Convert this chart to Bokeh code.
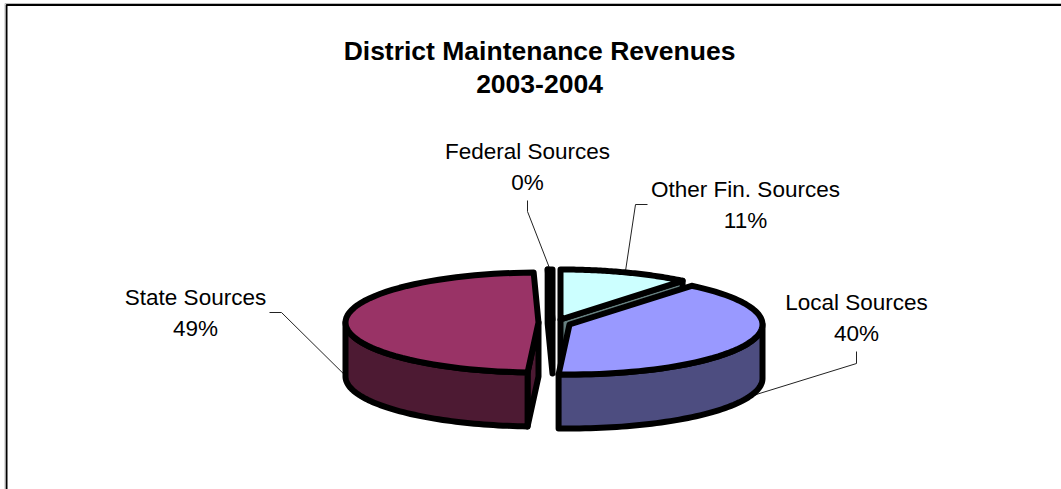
import numpy as np
from bokeh.plotting import figure
from bokeh.models import Range1d
from bokeh.core.properties import value
from bokeh.embed import file_html
from bokeh.resources import INLINE

title_lines = ["District Maintenance Revenues", "2003-2004"]
sources = ["Other Fin. Sources", "Local Sources", "State Sources", "Federal Sources"]
shares = [10.9, 40.0, 48.7, 0.4]
share_labels = ["11%", "40%", "49%", "0%"]

# styles / layout (page pixels)
tops = {"Other Fin. Sources": "#CCFFFF", "Local Sources": "#9999FF", "State Sources": "#993366", "Federal Sources": "#FFFFCC"}
sides = {"Other Fin. Sources": "#668080", "Local Sources": "#4D4D80", "State Sources": "#4D1A33", "Federal Sources": "#808066"}
apex = {"Other Fin. Sources": (560, 319), "Local Sources": (569, 324), "State Sources": (538, 322), "Federal Sources": (552, 319)}
label_pos = {"Other Fin. Sources": (745, 189), "Local Sources": (856, 302), "State Sources": (195, 297), "Federal Sources": (527, 151)}
elbows = {"Other Fin. Sources": [(647, 204), (635, 204)], "Local Sources": [(856, 351), (856, 363)],
          "State Sources": [(269, 312), (281, 312)], "Federal Sources": [(527, 200), (527, 211)]}
RX, RY, DEPTH, LW = 193, 50, 54, 6

W, H = 1061, 489
p = figure(width=W, height=H, output_backend="svg", toolbar_location=None, min_border=0,
           x_range=Range1d(0, W), y_range=Range1d(H, 0), background_fill_color="white",
           border_fill_color="white", outline_line_color=None)
p.axis.visible = False
p.grid.visible = False
p.styles = {"position": "absolute", "left": "0", "top": "0"}


def rim(name, a, b, n=60):
    cx, cy = apex[name]
    t = np.radians(np.linspace(a, b, n))
    return cx + RX * np.sin(t), cy - RY * np.cos(t)


def poly(xs, ys, color):
    p.patch(list(xs), list(ys), fill_color=color, line_color="black", line_width=LW, line_join="round")


# slice angles, clockwise from twelve o'clock
edges = np.concatenate([[0], np.cumsum(shares)]) / sum(shares) * 360
span = {s: (edges[i], edges[i + 1]) for i, s in enumerate(sources)}

# leaders run from each slice's mid-angle and go under the pie
for s in sources:
    a, b = span[s]
    ang = (a + b) / 2
    ex, ey = rim(s, ang, ang, 1)
    if 90 < ang < 275:
        ey = ey + DEPTH
    xs = [q[0] for q in elbows[s]] + [float(ex[0])]
    ys = [q[1] for q in elbows[s]] + [float(ey[0])]
    p.line(xs, ys, line_color="#222222", line_width=1)

# back to front
for s in ["Federal Sources", "Other Fin. Sources", "State Sources", "Local Sources"]:
    a, b = span[s]
    cx, cy = apex[s]
    # cut face that looks towards the viewer
    if s != "Local Sources":
        ang = b if s == "Other Fin. Sources" else a
        ex, ey = rim(s, ang, ang, 1)
        poly([cx, ex[0], ex[0], cx], [cy, ey[0], ey[0] + DEPTH, cy + DEPTH], sides[s])
    # outer wall
    lo, hi = max(a, 90), min(b, 270)
    if lo < hi:
        rx_, ry_ = rim(s, lo, hi)
        poly(np.r_[rx_, rx_[::-1]], np.r_[ry_, ry_[::-1] + DEPTH], sides[s])
    # top
    tx, ty = rim(s, a, b)
    poly(np.r_[cx, tx], np.r_[cy, ty], tops[s])

font = value("Liberation Sans")
for s, lab in zip(sources, share_labels):
    x, y = label_pos[s]
    p.text([x, x], [y, y + 30.5], text=[s, lab], text_font=font, text_font_size="22.5px",
           text_align="center", text_baseline="middle", text_color="black")

p.text([539, 539], [50, 83], text=title_lines, text_font=font, text_font_size="26.5px", text_font_style="bold",
       text_align="center", text_baseline="middle", text_color="black")

# chart-area frame: only its top and left edges fall inside the picture
p.line([6, 6, W], [H, 4.5, 4.5], line_color="black", line_width=2)
p.line([4.5, 4.5, W], [H, 3, 3], line_color="#BBBBBB", line_width=1)

open("out.html", "w").write(file_html(p, INLINE))
